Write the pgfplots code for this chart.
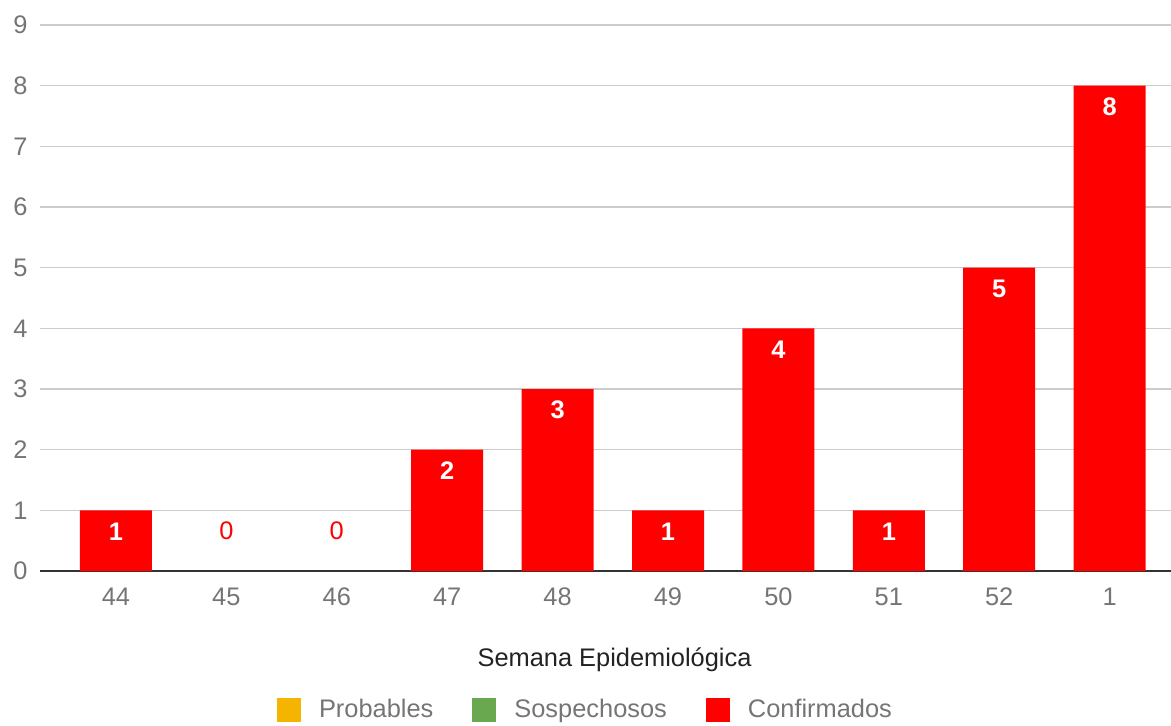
\documentclass[border=0pt]{standalone}
\usepackage{pgfplots}
\pgfplotsset{compat=1.18}
\usepackage{fontspec}
\setmainfont{Liberation Sans}
\definecolor{tickgray}{HTML}{757575}
\definecolor{gridgray}{HTML}{CCCCCC}
\definecolor{basegray}{HTML}{333333}
\definecolor{titlegray}{HTML}{222222}
\definecolor{probable}{HTML}{F4B400}
\definecolor{sospecha}{HTML}{6AA84F}
\definecolor{confirma}{HTML}{FF0000}

\begin{document}
\begin{tikzpicture}[x=1pt,y=1pt]
\useasboundingbox (-20,-77) rectangle (565.5,285.5);
\begin{axis}[
  at={(0,0)}, anchor=south west,
  scale only axis, width=565.5pt, height=273pt,
  xmin=-0.688, xmax=9.556, ymin=0, ymax=9,
  axis line style={draw=none},
  major tick length=0pt,
  xtick={0,...,9},
  xticklabels={44,45,46,47,48,49,50,51,52,1},
  ytick={1,...,9},
  extra y ticks={0},
  extra y tick style={grid style={basegray, line width=1pt}},
  ymajorgrids,
  grid style={gridgray, line width=0.6pt},
  /pgf/number format/assume math mode=true,
  tick label style={font=\fontsize{12.7}{14}\selectfont, text=tickgray},
  yticklabel style={anchor=east, inner sep=0pt, xshift=-6pt},
  xticklabel style={anchor=center, inner sep=0pt, yshift=-13pt},
  xlabel={Semana Epidemiológica},
  xlabel style={at={(rel axis cs:0.508,0)}, anchor=center, yshift=-44.5pt,
    font=\fontsize{12.7}{14}\selectfont, text=titlegray},
  legend columns=-1,
  legend style={at={(rel axis cs:0.4823,0)}, anchor=center, yshift=-69.5pt,
    draw=none, fill=none, font=\fontsize{12.7}{14}\selectfont, text=tickgray,
    /tikz/every even column/.append style={column sep=18.5pt},
    nodes={inner sep=1pt}},
  legend image code/.code={\fill[#1] (0pt,-6pt) rectangle (12pt,6pt);},
]
\addlegendimage{fill=probable, draw=none}
\addlegendentry{\hspace{8pt}Probables}
\addlegendimage{fill=sospecha, draw=none}
\addlegendentry{\hspace{8pt}Sospechosos}
\addplot[ybar, bar width=36pt, bar shift=0pt, fill=confirma, draw=none,
  nodes near coords,
  nodes near coords style={anchor=center, yshift=-10.5pt, text=white,
    font=\fontsize{12.7}{14}\selectfont\bfseries},
  ] coordinates {(0,1) (3,2) (4,3) (5,1) (6,4) (7,1) (8,5) (9,8)};
\addlegendentry{\hspace{8pt}Confirmados}
\addplot[ybar, bar width=36pt, bar shift=0pt, fill=none, draw=none,
  forget plot,
  nodes near coords,
  nodes near coords style={anchor=center, yshift=20pt, text=confirma,
    font=\fontsize{12.7}{14}\selectfont},
  ] coordinates {(1,0) (2,0)};
\end{axis}
\end{tikzpicture}
\end{document}
